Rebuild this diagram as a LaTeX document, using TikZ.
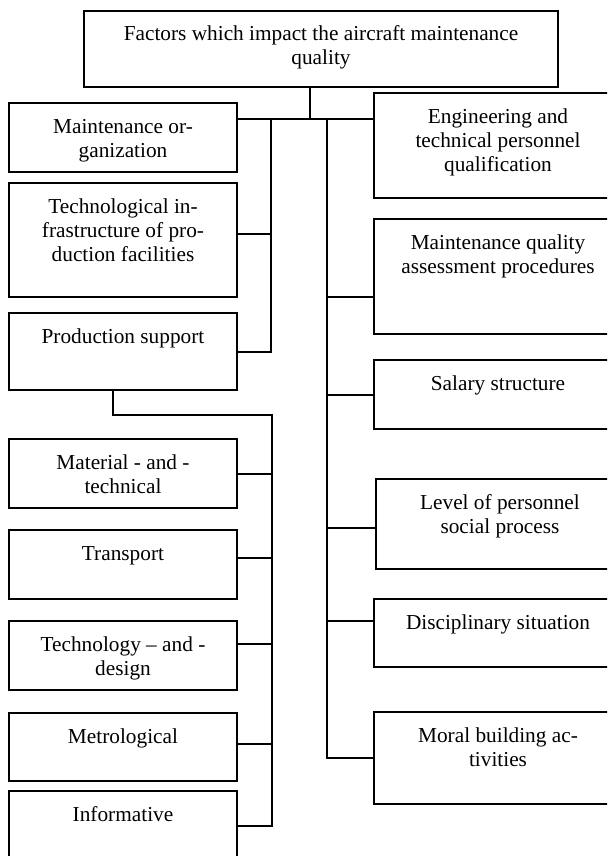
\documentclass[tikz,border=0pt]{standalone}
\usepackage{fontspec}
\setmainfont{Liberation Serif}
\usepackage{tikz}

\begin{document}
\begin{tikzpicture}[
    x=0.5pt, y=-0.5pt,
    factor/.style={draw, line width=1pt, anchor=north west, align=center,
      inner xsep=2pt, inner ysep=0pt, text height=15pt,
      font=\fontsize{10.65pt}{12pt}\selectfont},
    lfactor/.style={factor, minimum width=114pt},
    rfactor/.style={factor, minimum width=124pt},
    twolines/.style={text height=27pt},
    threelines/.style={text height=39pt},
    link/.style={line width=1pt}
  ]
  \useasboundingbox (0,0) rectangle (607,856);
  \clip (0,0) rectangle (607,856);

  \node[factor, twolines, minimum width=237pt, text depth=11pt] (top) at (83,10) {Factors which impact the aircraft maintenance\\quality};

  % left column
  \node[lfactor, twolines, text depth=7.5pt] (org) at (8,102) {Maintenance or-\\ganization};
  \node[lfactor, threelines, text depth=18pt] (infra) at (8,182) {Technological in-\\frastructure of pro-\\duction facilities};
  \node[lfactor, text depth=23.5pt] (prod) at (8,312) {Production support};

  % production support parts
  \node[lfactor, twolines, text depth=7.5pt] (mat) at (8,438) {Material - and -\\technical};
  \node[lfactor, text depth=19.5pt] (trans) at (8,529) {Transport};
  \node[lfactor, twolines, text depth=7.5pt] (techd) at (8,620) {Technology -- and -\\design};
  \node[lfactor, text depth=19pt] (metro) at (8,712) {Metrological};
  \node[lfactor, text depth=19.5pt] (inform) at (8,790) {Informative};

  % right column
  \node[rfactor, threelines, text depth=13.5pt] (eng) at (373,92) {Engineering and\\technical personnel\\qualification};
  \node[rfactor, twolines, text depth=30.5pt] (qual) at (373,218) {Maintenance quality\\assessment procedures};
  \node[rfactor, text depth=19.5pt] (salary) at (373,359) {Salary structure};
  \node[rfactor, twolines, text depth=18pt] (level) at (375,478) {Level of personnel\\social process};
  \node[rfactor, text depth=19pt] (disc) at (373,598) {Disciplinary situation};
  \node[rfactor, twolines, text depth=19pt] (moral) at (373,711) {Moral building ac-\\tivities};

  % buses
  \coordinate (j) at (310,119);
  \coordinate (lbus) at (271,119);
  \coordinate (rbus) at (327,119);
  \coordinate (sbus) at (272,415);

  \draw[link] (top.south -| j) -- (j);
  \draw[link] (org.east |- j) -- (eng.west |- j);

  \draw[link] (lbus) |- (prod.east);
  \draw[link] ([yshift=3pt]infra.east) -- ([yshift=3pt]infra.east -| lbus);

  \draw[link] (rbus) |- (moral.west);
  \foreach \n/\s in {qual/-10.25, salary/0, level/-2, disc/6}
    \draw[link] ([yshift=\s pt]\n.west) -- ([yshift=\s pt]\n.west -| rbus);

  \draw[link] ([xshift=-5pt]prod.south) |- (sbus) |- (inform.east);
  \foreach \n/\s in {mat/0, trans/3.25, techd/5.75, metro/1.5}
    \draw[link] ([yshift=\s pt]\n.east) -- ([yshift=\s pt]\n.east -| sbus);
\end{tikzpicture}
\end{document}
